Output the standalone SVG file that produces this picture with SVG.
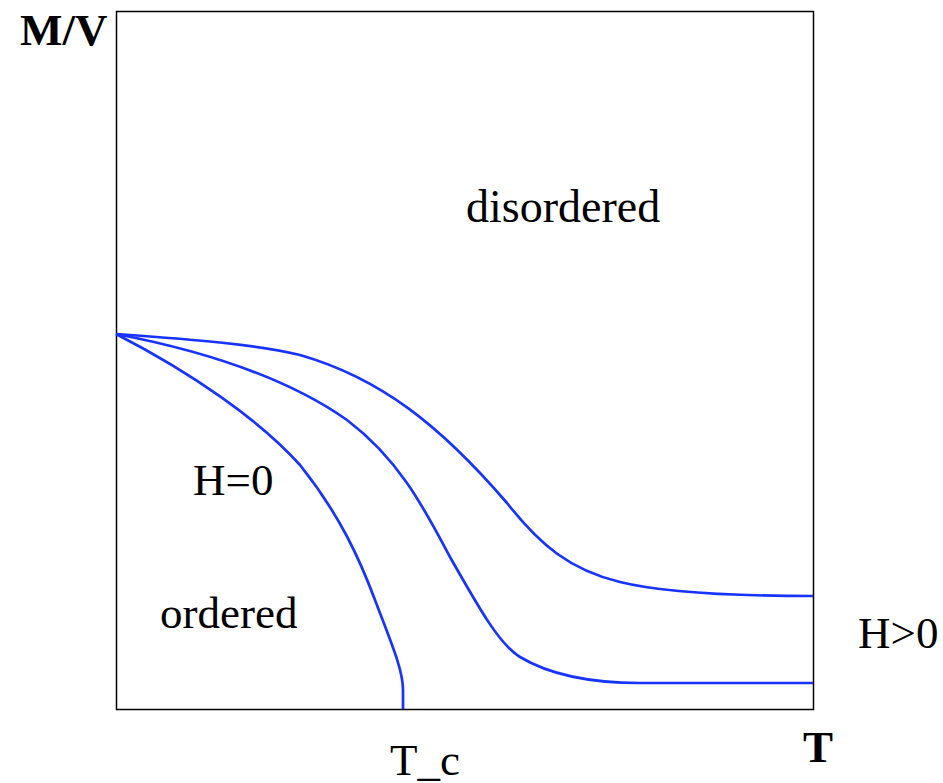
<svg xmlns="http://www.w3.org/2000/svg" width="943" height="783" viewBox="0 0 943 783">
<style>
.t{font-family:"Liberation Serif","Times New Roman",serif;fill:#000}
.b{font-weight:bold}
.c{fill:none;stroke:#1933ff;stroke-width:2.7;stroke-linejoin:round}
</style>
<rect width="943" height="783" fill="#fff"/>
<g id="frame"><rect x="116.5" y="11.5" width="697" height="698" fill="none" stroke="#000" stroke-width="1.5"/></g>
<g id="connectors">
<path id="h0" class="c" d="M116,334 C190,372 260,420 300,465 C340,515 360,560 375,600 C392,645 403,670 403,690 L403,709"/>
<path id="h1" class="c" d="M116,334 C210,352 290,380 347,420 C400,460 425,510 450,557 C480,610 500,645 520,657 C545,672 580,683 640,683 L813,683"/>
<path id="h2" class="c" d="M116,334 C200,340 260,345 300,355 C380,378 440,425 507,503 C540,545 570,570 620,582 C660,592 720,596 813,596"/>
</g>
<g id="labels">
<text class="t b" x="20" y="45" font-size="45">M/V</text>
<text class="t" x="466" y="222" font-size="46">disordered</text>
<text class="t" x="193" y="495" font-size="45">H=0</text>
<text class="t" x="160" y="628" font-size="45">ordered</text>
<text class="t" x="858" y="648" font-size="45">H&gt;0</text>
<text class="t" x="390" y="775" font-size="45">T_c</text>
<text class="t b" x="803" y="762" font-size="45">T</text>
</g>
</svg>
